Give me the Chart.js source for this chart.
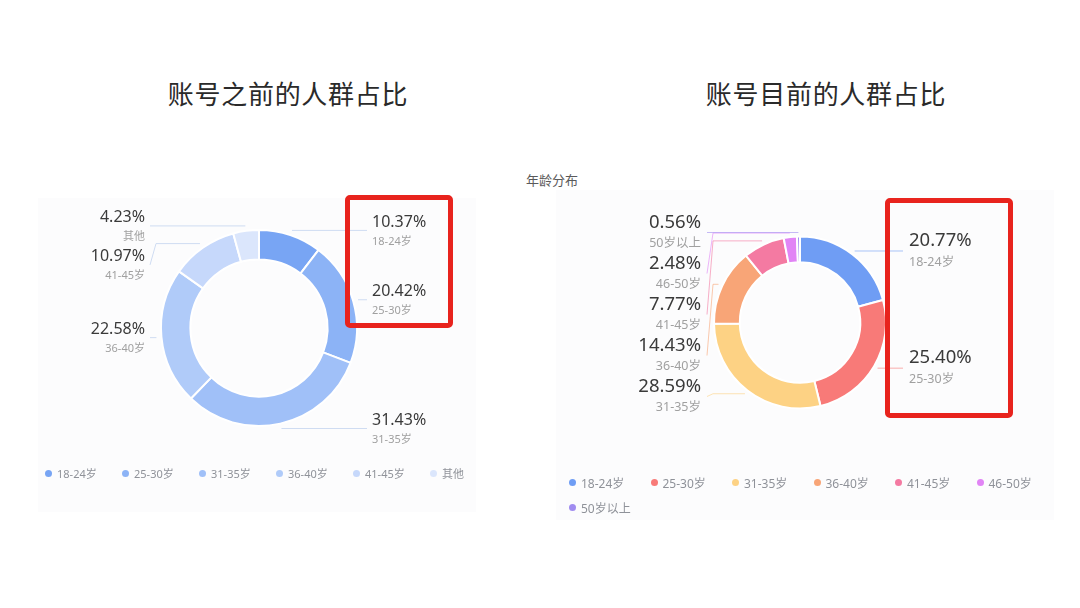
<!DOCTYPE html>
<html>
<head>
<meta charset="utf-8">
<script src="https://cdn.jsdelivr.net/npm/chart.js@4.4.1/dist/chart.umd.min.js"></script>
<style>
  html, body { margin: 0; padding: 0; background: #fff; }
  #stage { position: relative; width: 1080px; height: 608px; overflow: hidden;
           font-family: "Noto Sans", "Noto Sans CJK SC", sans-serif; }
  .title { position: absolute; top: 74px; font-family: "Noto Sans CJK SC", serif;
           font-size: 26px; letter-spacing: 0.7px; color: #2a2a2a; white-space: nowrap; transform: translateX(-50%); }
  .panel { position: absolute; background: #fcfcfd; }
  .sub { position: absolute; left: 552px; top: 170px; transform: translateX(-50%);
         font-family: "Noto Sans CJK SC", sans-serif; font-size: 13px; color: #5a5a5a; }
  canvas { position: absolute; }
  .legend { position: absolute; display: flex; flex-wrap: wrap; }
  .legend .item { display: flex; align-items: center; color: #8f9299; white-space: nowrap;
                  font-family: "Noto Sans", "Noto Sans CJK SC", sans-serif; }
  .legend .dot { width: 7px; height: 7px; border-radius: 50%; margin-right: 5px; flex: none; }
  .redbox { position: absolute; box-sizing: border-box; border: 5px solid #e8231d; border-radius: 5px; }
</style>
</head>
<body>
<div id="stage">
  <div class="panel" style="left:38px;top:198px;width:438px;height:314px"></div>
  <div class="panel" style="left:556px;top:190px;width:498px;height:330px"></div>

  <div class="title" style="left:288px">账号之前的人群占比</div>
  <div class="title" style="left:826px">账号目前的人群占比</div>
  <div class="sub">年龄分布</div>

  <canvas id="before" width="518" height="356" style="left:0;top:150px"></canvas>
  <canvas id="now" width="520" height="305" style="left:540px;top:170px"></canvas>

  <div class="legend" id="legend-before" style="left:45px;top:465px;width:470px"></div>
  <div class="legend" id="legend-now" style="left:569px;top:470px;width:492px"></div>

  <div class="redbox" style="left:345px;top:195px;width:108px;height:133px"></div>
  <div class="redbox" style="left:885px;top:198px;width:128px;height:220px"></div>
</div>

<script>
// before: age groups and shares (%)
const ageBefore = ['18-24岁', '25-30岁', '31-35岁', '36-40岁', '41-45岁', '其他'];
const shareBefore = [10.37, 20.42, 31.43, 22.58, 10.97, 4.23];
const colorsBefore = ['#78a5f4', '#8cb3f6', '#a0c0f8', '#b0cbf9', '#c6d8fb', '#dbe6fc'];

// now
const ageNow = ['18-24岁', '25-30岁', '31-35岁', '36-40岁', '41-45岁', '46-50岁', '50岁以上'];
const shareNow = [20.77, 25.40, 28.59, 14.43, 7.77, 2.48, 0.56];
const colorsNow = ['#6f9df4', '#f87a78', '#fdd284', '#f8a577', '#f47aa2', '#e184f5', '#a08cf0'];

// labels outside the ring with leader lines (echarts-like)
const outsideLabels = {
    id: 'outsideLabels',
    afterDatasetsDraw(chart, args, o) {
        const ctx = chart.ctx;
        const meta = chart.getDatasetMeta(0);
        const ds = chart.data.datasets[0];

        const items = meta.data.map((arc, i) => {
            const mid = (arc.startAngle + arc.endAngle) / 2;
            const r = arc.outerRadius + o.lift;
            return {
                i, arc,
                x: arc.x + Math.cos(mid) * r,
                y: arc.y + Math.sin(mid) * r,
                side: Math.cos(mid) >= 0 ? 1 : -1
            };
        });

        // push labels down so they don't overlap
        [1, -1].forEach(side => {
            const list = items.filter(it => it.side === side).sort((a, b) => a.y - b.y);
            let prev = -Infinity;
            list.forEach(it => {
                it.ly = Math.max(it.y, prev + o.gap);
                prev = it.ly;
            });
        });

        ctx.save();
        items.forEach(it => {
            const a = it.arc;
            const end = a.x + it.side * (a.outerRadius + (it.side > 0 ? o.lineR : o.lineL));
            ctx.strokeStyle = o.lineColor ? o.lineColor : ds.backgroundColor[it.i] + '99';
            ctx.lineWidth = 1;
            ctx.beginPath();
            ctx.moveTo(it.x, it.y);
            ctx.lineTo(end - it.side * 6, it.y);
            ctx.lineTo(end, it.ly);
            ctx.stroke();

            const tx = end + it.side * o.textGap;
            ctx.textAlign = it.side > 0 ? 'left' : 'right';
            ctx.textBaseline = 'middle';
            ctx.fillStyle = '#3a3a3a';
            ctx.font = o.valueSize + 'px "Noto Sans", "Noto Sans CJK SC", sans-serif';
            ctx.fillText(ds.data[it.i].toFixed(2) + '%', tx, it.ly - o.valueUp);
            ctx.fillStyle = '#a0a0a0';
            ctx.font = o.nameSize + 'px "Noto Sans", "Noto Sans CJK SC", sans-serif';
            ctx.fillText(chart.data.labels[it.i], tx, it.ly + o.nameDown);
        });
        ctx.restore();
    }
};

// html legend built from the chart's own legend items
const htmlLegend = {
    id: 'htmlLegend',
    afterUpdate(chart, args, o) {
        const box = document.getElementById(o.containerID);
        box.innerHTML = '';
        const items = chart.options.plugins.legend.labels.generateLabels(chart);
        items.forEach(item => {
            const el = document.createElement('div');
            el.className = 'item';
            el.style.width = o.itemWidth + 'px';
            el.style.height = o.rowHeight + 'px';
            el.style.fontSize = o.fontSize + 'px';
            const dot = document.createElement('span');
            dot.className = 'dot';
            dot.style.background = item.fillStyle;
            el.appendChild(dot);
            el.appendChild(document.createTextNode(item.text));
            box.appendChild(el);
        });
    }
};

function makeDonut(id, labels, data, colors, radius, labelOpts, legendOpts) {
    return new Chart(document.getElementById(id), {
        type: 'doughnut',
        data: {
            labels: labels,
            datasets: [{
                data: data,
                backgroundColor: colors,
                borderColor: '#ffffff',
                borderWidth: 2,
                radius: radius
            }]
        },
        options: {
            responsive: false,
            animation: false,
            cutout: '70%',
            plugins: {
                legend: { display: false },
                tooltip: { enabled: false },
                outsideLabels: labelOpts,
                htmlLegend: legendOpts
            }
        },
        plugins: [outsideLabels, htmlLegend]
    });
}

makeDonut('before', ageBefore, shareBefore, colorsBefore, 98,
    { lift: 5, gap: 39, lineL: 11, lineR: 10, textGap: 5, valueUp: 8, nameDown: 11,
      valueSize: 16, nameSize: 11, lineColor: '#cfdcf2' },
    { containerID: 'legend-before', itemWidth: 77, rowHeight: 16, fontSize: 11 });

makeDonut('now', ageNow, shareNow, colorsNow, 86,
    { lift: 4, gap: 41, lineL: 7, lineR: 17, textGap: 6, valueUp: 10, nameDown: 11,
      valueSize: 18.5, nameSize: 12.5 },
    { containerID: 'legend-now', itemWidth: 81.5, rowHeight: 25, fontSize: 12 });
</script>
</body>
</html>
